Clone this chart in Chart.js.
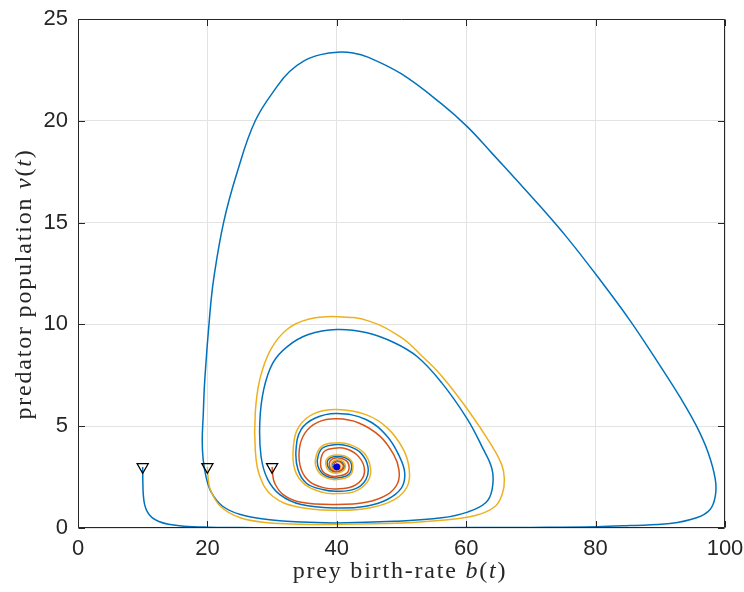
<!DOCTYPE html>
<html>
<head>
<meta charset="utf-8">
<script src="https://cdn.jsdelivr.net/npm/chart.js@4/dist/chart.umd.min.js"></script>
<style>
html,body{margin:0;padding:0;background:#fff;}
canvas{display:block;}
</style>
</head>
<body>
<canvas id="c" width="744" height="592"></canvas>
<script>
// ---- data ----
const xTicks = [0, 20, 40, 60, 80, 100];
const yTicks = [0, 5, 10, 15, 20, 25];

// trajectory starting at b=10 (blue)
const blueB = [10,10.02,10.1,10.3,10.7,11.4,12.5,14,16.3,20,25,30,40,50,60,70,80.2,85.3,91.5,95.6,97.7,98.5,98.5,97.4,95.6,93.2,89.9,85.3,80.3,75.5,71.3,67.6,64,60.2,56.2,50,44.8,42.5,40.1,37.5,35,32.7,30.8,27.4,24.6,22.5,21.0,20.4,19.6,19.35,19.2,19.35,19.8,20.65,22.3,25.1,29.3,34.4,40,48.9,56.2,60.2,63,64,64,62.4,60.2,56.2,52.5,48.9,44.5,40,35.6,32.3,30.1,28.7,28.1,28.3,29.3,31.2,34.5,40,44.5,47.8,50,50.5,49.7,47.8,44.5,40,36.7,34.5,33.7,34,35.3,37.8,40,42.8,44.5,44.8,43.7,41.8,40,37.8,37,37.3,38.4,40,41.8,42.3,41.8,40,38.7,38.6,39.3,40.3,41.1,40.9,40,39.3,39.4,40,40.5,40.2,39.8,40];
const blueV = [3,2.3,1.6,1.15,0.8,0.52,0.32,0.18,0.09,0.04,0.02,0.01,0.01,0.01,0.02,0.03,0.06,0.12,0.22,0.5,0.91,1.56,2.39,3.7,5.0,6.35,8.0,10.2,12.35,14.3,15.85,17.15,18.4,19.7,20.83,22.3,23.13,23.33,23.37,23.25,22.96,22.42,21.7,20.0,17.47,15.0,12.3,10.6,7.3,5.5,4.3,3.35,2.5,1.72,1.08,0.66,0.42,0.29,0.25,0.33,0.5,0.78,1.24,1.89,2.88,4.02,5.34,7.14,8.4,9.1,9.6,9.75,9.5,8.9,8.1,6.8,5.2,3.5,2.4,1.64,1.15,0.98,1.07,1.4,1.97,2.7,3.5,4.5,5.33,5.62,5.4,4.84,3.85,2.87,2.2,1.89,1.8,1.92,2.38,3.03,3.69,4.02,4.1,3.93,3.36,2.87,2.54,2.46,2.62,3.03,3.36,3.52,3.36,3.03,2.8,2.78,2.95,3.2,3.3,3.15,2.95,2.88,3.0,3.12,3.06,3];

// trajectory starting at b=20 (yellow)
const yellowB = [20,20.1,20.45,22.0,25.1,29.3,34.4,40,50,56.2,61.4,64.5,65.6,65.9,65.5,64.0,60.2,56.2,53,50,45,40,35.6,32.3,29.8,28.1,27.4,27.4,28.1,30.1,34,40,45,48.9,50.9,51.2,50.3,47.8,44.5,40,36.5,34.2,33.3,33.5,35.1,37.8,40,42.8,44.8,45.2,44.2,42,40,37.7,36.7,37.1,38.4,40,41.9,42.5,41.9,40,38.5,38.4,39.2,40.4,41.3,41.0,40,39.2,39.3,40,40.6,40.3,39.8,39.9,40];
const yellowV = [3,2.5,1.89,1.07,0.5,0.26,0.19,0.18,0.25,0.38,0.61,1.07,1.7,2.4,3.1,4.02,5.83,7.47,8.5,9.35,10.16,10.38,10.25,9.75,8.77,7.3,5.66,3.85,2.54,1.56,1.03,0.87,0.98,1.39,2.05,2.87,3.85,4.92,5.57,5.82,5.62,5.0,4.02,2.87,2.13,1.75,1.69,1.8,2.3,2.95,3.69,4.1,4.18,4.02,3.36,2.79,2.46,2.38,2.55,3.0,3.42,3.58,3.4,3.0,2.74,2.72,2.95,3.25,3.35,3.18,2.93,2.85,2.98,3.14,3.08,2.97,3];

// trajectory starting at b=30 (red)
const redB = [30,30.1,30.4,31.7,34.5,40,44.5,47.8,49.4,49.6,48.8,46.7,43.4,40,37.1,35.1,34.2,34.5,35.9,38.1,40,42.5,44,44.2,43.1,41.4,40,38.1,37.5,37.8,38.9,40,41.5,41.9,41.4,40,39,38.9,39.5,40.4,41,40.7,40,39.5,39.6,40.2,40.4,40,39.9,40];
const redV = [3,2.6,2.2,1.64,1.26,1.15,1.26,1.64,2.2,2.87,3.6,4.5,5.16,5.36,5.2,4.67,3.85,2.87,2.25,1.97,1.92,2.05,2.46,3.03,3.6,3.89,3.93,3.77,3.28,2.79,2.57,2.54,2.68,3.02,3.32,3.45,3.3,3.0,2.8,2.8,3.0,3.2,3.26,3.1,2.95,2.9,3.05,3.1,3.0,3];

// start markers and equilibrium
const startB = [10, 20, 30];
const startV = [3, 3, 3];
const eqB = [40];
const eqV = [3];

// axis titles (segments: text, italic?)
const xTitle = [["prey birth-rate ", false], ["b", true], ["(", false], ["t", true], [")", false]];
const yTitle = [["predator population ", false], ["v", true], ["(", false], ["t", true], [")", false]];

const pts = (xs, ys) => xs.map((x, i) => ({x: x, y: ys[i]}));

const AXC = '#262626';
const tickFont = {family: '"Liberation Sans", Arial, sans-serif', size: 22};

const boxPlugin = {
  id: 'boxAndTitles',
  afterDraw(chart) {
    const ctx = chart.ctx, a = chart.chartArea;
    const xs = chart.scales.x, ys = chart.scales.y;
    ctx.save();
    ctx.strokeStyle = AXC;
    ctx.lineWidth = 1;
    ctx.beginPath();
    const L = Math.round(a.left) + 0.5, R = Math.round(a.right) - 0.5;
    const T = Math.round(a.top) + 0.5, B = Math.round(a.bottom) - 0.5;
    ctx.rect(L, T, R - L, B - T);
    const tl = 6.5;
    xTicks.forEach(v => {
      const px = Math.round(xs.getPixelForValue(v)) + 0.5;
      ctx.moveTo(px, B); ctx.lineTo(px, B - tl);
      ctx.moveTo(px, T); ctx.lineTo(px, T + tl);
    });
    yTicks.forEach(v => {
      const py = Math.round(ys.getPixelForValue(v)) + 0.5;
      ctx.moveTo(L, py); ctx.lineTo(L + tl, py);
      ctx.moveTo(R, py); ctx.lineTo(R - tl, py);
    });
    ctx.stroke();

    const fam = '"Liberation Serif", "Times New Roman", serif';
    const sz = 24;
    const drawParts = (parts, cx, cy) => {
      ctx.letterSpacing = '1.8px';
      let w = 0;
      parts.forEach(p => { ctx.font = (p[1] ? 'italic ' : '') + sz + 'px ' + fam; w += ctx.measureText(p[0]).width; });
      let x = cx - w / 2;
      ctx.fillStyle = AXC;
      ctx.textBaseline = 'alphabetic';
      ctx.textAlign = 'left';
      parts.forEach(p => {
        ctx.font = (p[1] ? 'italic ' : '') + sz + 'px ' + fam;
        ctx.fillText(p[0], x, cy);
        x += ctx.measureText(p[0]).width;
      });
      ctx.letterSpacing = '0px';
    };
    drawParts(xTitle, 400, 578);
    ctx.save();
    ctx.translate(31, 284);
    ctx.rotate(-Math.PI / 2);
    drawParts(yTitle, 0, 0);
    ctx.restore();
    ctx.restore();
  }
};

const lineDs = (label, xs, ys, color, order) => ({
  type: 'line', label, data: pts(xs, ys), borderColor: color, borderWidth: 1.5,
  pointRadius: 0, tension: 0.4, fill: false, order
});

new Chart(document.getElementById('c'), {
  type: 'scatter',
  data: {
    datasets: [
      {label: 'start', data: pts(startB, startV), pointStyle: 'triangle', rotation: 180, pointRadius: 6.5,
       borderColor: '#000', backgroundColor: 'rgba(255,255,255,0)', pointBorderWidth: 1.2, order: 0, showLine: false},
      {label: 'equilibrium', data: pts(eqB, eqV), pointStyle: 'circle', pointRadius: 3,
       borderColor: '#0000e0', backgroundColor: '#0000e0', order: 1, showLine: false},
      lineDs('b0=30', redB, redV, '#D95319', 2),
      lineDs('b0=20', yellowB, yellowV, '#EDB120', 3),
      lineDs('b0=10', blueB, blueV, '#0072BD', 4)
    ]
  },
  options: {
    responsive: false,
    devicePixelRatio: 1,
    animation: false,
    layout: {padding: {left: 0, right: 19, top: 19, bottom: 0}},
    plugins: {legend: {display: false}, tooltip: {enabled: false}},
    scales: {
      x: {
        type: 'linear', min: 0, max: 100,
        afterBuildTicks: s => { s.ticks = xTicks.map(v => ({value: v})); },
        afterFit: s => { s.height = 64; s.paddingLeft = 0; s.paddingRight = 0; },
        ticks: {font: tickFont, color: AXC, padding: 8},
        grid: {color: '#e3e3e3', drawTicks: false, lineWidth: 1},
        border: {display: false}
      },
      y: {
        type: 'linear', min: 0, max: 25,
        afterBuildTicks: s => { s.ticks = yTicks.map(v => ({value: v})); },
        afterFit: s => { s.width = 78; s.paddingTop = 0; s.paddingBottom = 0; },
        ticks: {font: tickFont, color: AXC, padding: 10},
        grid: {color: '#e3e3e3', drawTicks: false, lineWidth: 1},
        border: {display: false}
      }
    }
  },
  plugins: [boxPlugin]
});
</script>
</body>
</html>
